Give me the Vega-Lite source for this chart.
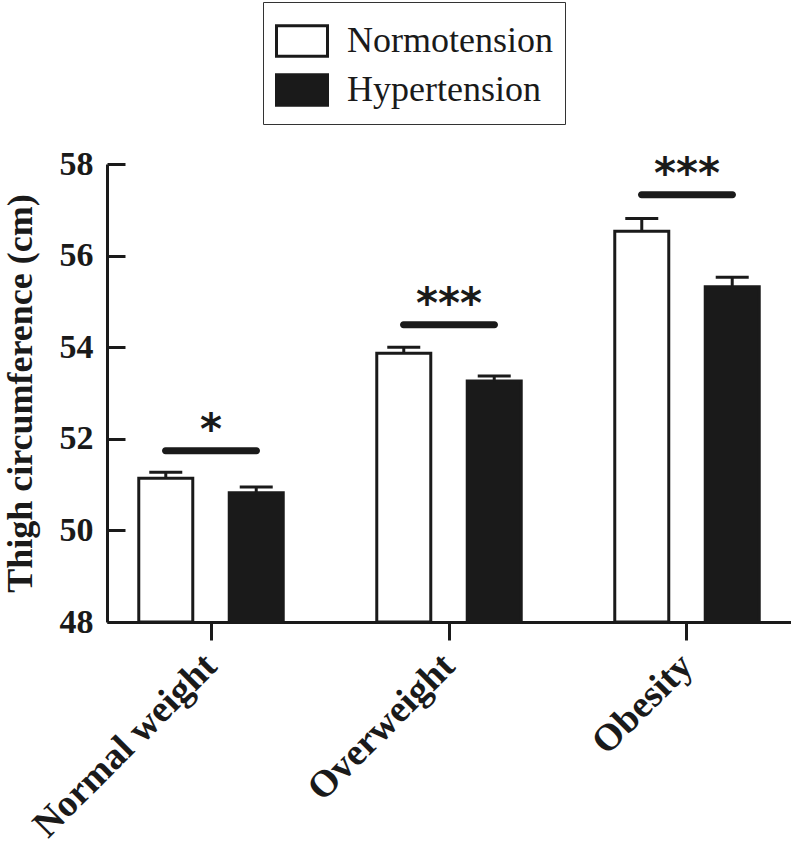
{
  "$schema": "https://vega.github.io/schema/vega-lite/v6.json",
  "width": 684,
  "height": 458,
  "padding": {"left": 2, "top": 1, "right": 0, "bottom": 0},
  "background": "white",
  "config": {
    "view": {"stroke": null},
    "axis": {"domainColor": "#1a1a1a", "domainWidth": 3, "tickColor": "#1a1a1a", "tickWidth": 3, "labelColor": "#1a1a1a", "titleColor": "#1a1a1a", "grid": false}
  },
  "datasets": {
    "bars": [
      {"group": "Normal weight", "status": "Normotension", "mean": 51.14, "upper": 51.27},
      {"group": "Normal weight", "status": "Hypertension", "mean": 50.82, "upper": 50.95},
      {"group": "Overweight", "status": "Normotension", "mean": 53.87, "upper": 54.0},
      {"group": "Overweight", "status": "Hypertension", "mean": 53.26, "upper": 53.37},
      {"group": "Obesity", "status": "Normotension", "mean": 56.53, "upper": 56.81},
      {"group": "Obesity", "status": "Hypertension", "mean": 55.32, "upper": 55.53}
    ],
    "sig": [
      {"group": "Normal weight", "line": 51.74, "stars": "*"},
      {"group": "Overweight", "line": 54.49, "stars": "***"},
      {"group": "Obesity", "line": 57.33, "stars": "***"}
    ]
  },
  "layer": [
    {
      "data": {"name": "bars"},
      "mark": {"type": "bar", "stroke": "#1a1a1a", "strokeWidth": 3},
      "encoding": {
        "x": {"field": "group", "type": "nominal", "sort": ["Normal weight", "Overweight", "Obesity"],
              "scale": {"paddingInner": 0.393, "paddingOuter": 0.1335},
              "axis": {"title": null, "labelAngle": -45, "labelAlign": "right", "labelBaseline": "middle", "labelFont": "Liberation Serif", "labelFontWeight": "bold", "labelFontSize": 38, "labelPadding": 20, "labelLimit": 500, "tickSize": 18}},
        "xOffset": {"field": "status", "type": "nominal", "sort": ["Normotension", "Hypertension"], "scale": {"paddingInner": 0.403, "paddingOuter": 0}},
        "y": {"field": "mean", "type": "quantitative",
              "scale": {"domain": [48, 58], "nice": false, "zero": false},
              "axis": {"title": "Thigh circumference (cm)", "values": [48, 50, 52, 54, 56, 58], "labelFont": "Liberation Serif", "labelFontWeight": "bold", "labelFontSize": 34, "labelPadding": 32, "tickSize": -18, "titleFont": "Liberation Serif", "titleFontWeight": "bold", "titleFontSize": 36, "titlePadding": 20}},
        "y2": {"datum": 48},
        "fill": {"field": "status", "type": "nominal",
                 "scale": {"domain": ["Normotension", "Hypertension"], "range": ["#ffffff", "#1a1a1a"]},
                 "legend": {"title": null, "orient": "none", "legendX": 156, "legendY": -162, "direction": "vertical",
                            "symbolType": "M-1,-0.6H1V0.6H-1Z", "symbolSize": 2601, "symbolStrokeColor": "#1a1a1a", "symbolStrokeWidth": 3,
                            "labelFont": "Liberation Serif", "labelFontSize": 36, "labelColor": "#1a1a1a", "labelOffset": 18, "labelLimit": 400,
                            "strokeColor": "#333333", "fillColor": "#ffffff", "padding": 12, "rowPadding": 0}}
      }
    },
    {
      "data": {"name": "bars"},
      "mark": {"type": "rule", "color": "#1a1a1a", "strokeWidth": 3},
      "encoding": {
        "x": {"field": "group", "type": "nominal", "sort": ["Normal weight", "Overweight", "Obesity"]},
        "xOffset": {"field": "status", "type": "nominal", "sort": ["Normotension", "Hypertension"]},
        "y": {"field": "mean", "type": "quantitative"},
        "y2": {"field": "upper"}
      }
    },
    {
      "data": {"name": "bars"},
      "mark": {"type": "tick", "color": "#1a1a1a", "opacity": 1, "size": 33, "thickness": 3, "orient": "horizontal"},
      "encoding": {
        "x": {"field": "group", "type": "nominal", "sort": ["Normal weight", "Overweight", "Obesity"]},
        "xOffset": {"field": "status", "type": "nominal", "sort": ["Normotension", "Hypertension"]},
        "y": {"field": "upper", "type": "quantitative"}
      }
    },
    {
      "data": {"name": "sig"},
      "mark": {"type": "tick", "color": "#1a1a1a", "opacity": 1, "size": 98, "thickness": 7, "cornerRadius": 3.5, "orient": "horizontal"},
      "encoding": {
        "x": {"field": "group", "type": "nominal", "sort": ["Normal weight", "Overweight", "Obesity"]},
        "y": {"field": "line", "type": "quantitative"}
      }
    },
    {
      "data": {"name": "sig"},
      "mark": {"type": "text", "font": "DejaVu Sans", "fontWeight": "bold", "fontSize": 42, "baseline": "alphabetic", "dy": -7, "color": "#1a1a1a"},
      "encoding": {
        "x": {"field": "group", "type": "nominal", "sort": ["Normal weight", "Overweight", "Obesity"]},
        "y": {"field": "line", "type": "quantitative"},
        "text": {"field": "stars"}
      }
    }
  ]
}
